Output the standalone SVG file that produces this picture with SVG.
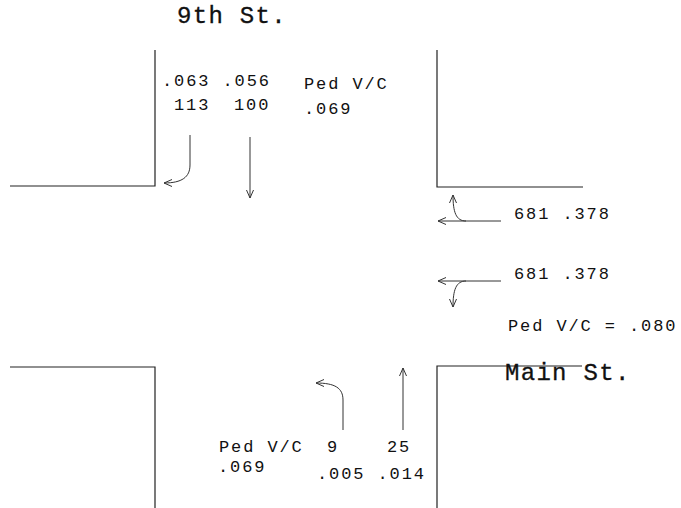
<svg xmlns="http://www.w3.org/2000/svg" width="681" height="508" viewBox="0 0 681 508">
<style>
.curb{fill:none;stroke:#222;stroke-width:1.2}
.arr{fill:none;stroke:#333;stroke-width:1;marker-end:url(#ah)}
.t{font-family:"Liberation Mono","DejaVu Sans Mono",monospace;font-size:17px;letter-spacing:1.9px;fill:#111}
.st{font-family:"Liberation Mono","DejaVu Sans Mono",monospace;font-size:24px;letter-spacing:1.3px;fill:#111;stroke:#111;stroke-width:0.3}
</style>
<defs>
<marker id="ah" markerUnits="userSpaceOnUse" markerWidth="10" markerHeight="10" refX="8" refY="3.5" orient="auto" overflow="visible">
<path d="M0,0 L8,3.5 L0,7" fill="none" stroke="#333" stroke-width="1"/>
</marker>
</defs>
<rect width="681" height="508" fill="#fff"/>
<g id="curbs">
<polyline class="curb" points="10,186 155,186 155,50"/>
<polyline class="curb" points="437,50 437,187 583,187"/>
<polyline class="curb" points="10,367 155,367 155,508"/>
<polyline class="curb" points="437,508 437,366 582,366"/>
</g>
<g id="labels">
<text class="st" x="177" y="23">9th St.</text>
<text class="st" x="505" y="380">Main St.</text>
</g>
<g id="north-approach">
<text class="t" x="162" y="86">.063 .056</text>
<text class="t" x="174" y="110">113</text>
<text class="t" x="234" y="110">100</text>
<text class="t" x="304" y="89">Ped V/C</text>
<text class="t" x="304" y="114">.069</text>
</g>
<g id="east-approach">
<text class="t" x="514" y="219">681 .378</text>
<text class="t" x="514" y="279">681 .378</text>
<text class="t" x="508" y="331">Ped V/C = .080</text>
</g>
<g id="south-approach">
<text class="t" x="219" y="452">Ped V/C</text>
<text class="t" x="327" y="452">9</text>
<text class="t" x="387" y="452">25</text>
<text class="t" x="218" y="472">.069</text>
<text class="t" x="317" y="479">.005 .014</text>
</g>
<g id="connectors">
<path class="arr" d="M190,135 L190,165 C190,177 182,183 164,183"/>
<path class="arr" d="M250,137 L250,198"/>
<path class="arr" d="M501,221 L438,221"/>
<path class="arr" d="M466,221 C456,221 453,212 453,195"/>
<path class="arr" d="M501,281 L438,281"/>
<path class="arr" d="M466,281 C456,281 453,290 453,307"/>
<path class="arr" d="M343,430 L343,400 C343,388 335,383 316,383"/>
<path class="arr" d="M403,430 L403,368"/>
</g>
</svg>
